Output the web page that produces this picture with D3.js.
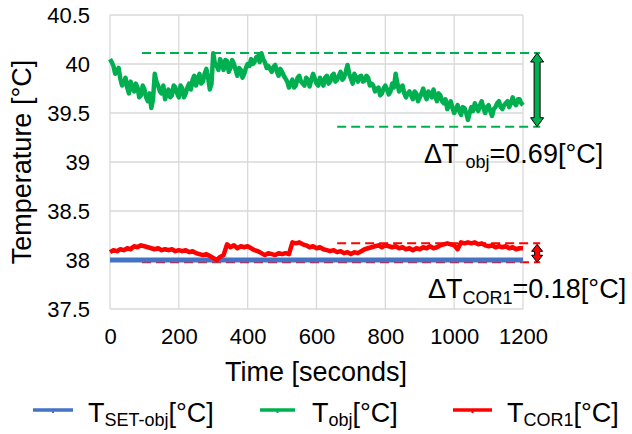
<!DOCTYPE html>
<html>
<head>
<meta charset="utf-8">
<script src="https://cdn.jsdelivr.net/npm/d3@7"></script>
<style>
  html, body { margin: 0; padding: 0; background: #fff; }
  svg { display: block; font-family: "Liberation Sans", Arial, sans-serif; }
</style>
</head>
<body>
<svg id="chart" width="632" height="434"></svg>
<script>
// ---------- DATA ----------
const times = [0,10,20,30,40,50,60,70,80,90,100,110,120,130,140,150,160,170,180,190,
  200,210,220,230,240,250,260,270,280,290,300,310,320,330,340,350,360,370,380,390,
  400,410,420,430,440,450,460,470,480,490,500,510,520,530,540,550,560,570,580,590,
  600,610,620,630,640,650,660,670,680,690,700,710,720,730,740,750,760,770,780,790,
  800,810,820,830,840,850,860,870,880,890,900,910,920,930,940,950,960,970,980,990,
  1000,1010,1020,1030,1040,1050,1060,1070,1080,1090,1100,1110,1120,1130,1140,1150,1160,1170,1180,1190,1200];

const timesMid = [5,15,25,35,45,55,65,75,85,95,105,115,125,135,145,155,165,175,185,195,
  205,215,225,235,245,255,265,275,285,295,305,315,325,335,345,355,365,375,385,395,
  405,415,425,435,445,455,465,475,485,495,505,515,525,535,545,555,565,575,585,595,
  605,615,625,635,645,655,665,675,685,695,705,715,725,735,745,755,765,775,785,795,
  805,815,825,835,845,855,865,875,885,895,905,915,925,935,945,955,965,975,985,995,
  1005,1015,1025,1035,1045,1055,1065,1075,1085,1095,1105,1115,1125,1135,1145,1155,1165,1175,1185,1195];

const tObj = [40.05,39.98,39.93,39.85,39.80,39.76,39.82,39.72,39.76,39.68,
  39.74,39.62,39.55,39.90,39.78,39.70,39.64,39.74,39.68,39.76,
  39.66,39.75,39.70,39.80,39.84,39.78,39.90,39.82,39.95,39.74,
  40.11,39.98,40.05,39.94,40.03,39.96,40.00,39.88,39.94,39.90,
  40.00,40.05,40.02,40.08,40.11,40.02,39.98,39.92,39.99,39.88,
  39.92,39.85,39.76,39.84,39.78,39.88,39.80,39.86,39.77,39.90,
  39.80,39.86,39.78,39.88,39.82,39.90,39.84,39.92,39.86,39.99,
  39.85,39.90,39.82,39.88,39.83,39.86,39.80,39.72,39.76,39.70,
  39.78,39.69,39.80,39.90,39.72,39.78,39.66,39.72,39.64,39.70,
  39.66,39.75,39.64,39.70,39.74,39.62,39.68,39.60,39.54,39.62,
  39.50,39.58,39.48,39.55,39.43,39.56,39.60,39.52,39.62,39.50,
  39.58,39.47,39.56,39.62,39.54,39.60,39.56,39.66,39.58,39.64,39.58];

const tObjMid = [40.02,39.90,39.96,39.78,39.86,39.70,39.76,39.80,39.66,39.78,
  39.66,39.70,39.64,39.82,39.72,39.78,39.70,39.66,39.78,39.70,
  39.78,39.66,39.76,39.74,39.88,39.84,39.80,39.90,39.86,39.80,
  40.00,39.94,40.00,40.04,39.92,40.04,39.94,39.96,39.86,39.96,
  39.98,40.00,40.07,40.02,40.05,39.96,39.95,39.97,39.92,39.95,
  39.88,39.82,39.80,39.76,39.86,39.82,39.78,39.84,39.84,39.85,
  39.78,39.82,39.86,39.80,39.88,39.82,39.88,39.84,39.92,39.90,
  39.80,39.86,39.87,39.82,39.88,39.78,39.78,39.74,39.68,39.75,
  39.74,39.72,39.76,39.80,39.76,39.70,39.70,39.68,39.72,39.62,
  39.70,39.68,39.72,39.66,39.67,39.70,39.62,39.64,39.58,39.55,
  39.54,39.52,39.56,39.50,39.50,39.52,39.56,39.58,39.55,39.56,
  39.52,39.54,39.60,39.56,39.58,39.62,39.60,39.60,39.64,39.60];

const tCor1 = [38.08,38.10,38.09,38.11,38.10,38.12,38.11,38.14,38.13,38.15,
  38.14,38.13,38.12,38.11,38.12,38.10,38.11,38.10,38.11,38.09,
  38.10,38.09,38.10,38.08,38.09,38.07,38.06,38.05,38.06,38.04,
  38.02,38.00,38.03,38.05,38.16,38.13,38.15,38.12,38.14,38.13,
  38.14,38.12,38.10,38.09,38.07,38.05,38.07,38.06,38.05,38.07,
  38.06,38.07,38.06,38.18,38.17,38.18,38.16,38.15,38.13,38.14,
  38.12,38.13,38.11,38.10,38.09,38.10,38.08,38.09,38.07,38.08,
  38.06,38.08,38.07,38.09,38.11,38.12,38.13,38.14,38.15,38.13,
  38.15,38.14,38.13,38.14,38.12,38.13,38.11,38.12,38.10,38.12,
  38.11,38.13,38.12,38.14,38.12,38.13,38.15,38.16,38.17,38.16,
  38.15,38.11,38.18,38.17,38.18,38.17,38.18,38.16,38.17,38.15,
  38.14,38.15,38.13,38.14,38.13,38.14,38.12,38.13,38.11,38.12,38.12];

const tSetTimes = [0, 1200];
const tSet = [38.0, 38.0];

const xTicks = [0, 200, 400, 600, 800, 1000, 1200];
const yTicks = [37.5, 38, 38.5, 39, 39.5, 40, 40.5];

// annotation levels: [value, startTime, endTime]
const objBandTop = [40.112, 93, 1250];
const objBandBottom = [39.36, 660, 1250];
const corBandTop = [38.17, 660, 1250];
const corBandBottom = [37.977, 93, 1250];
const arrowTime = 1241;

const objLabel = ["ΔT ", "obj", "=0.69[°C]"];
const corLabel = ["ΔT", "COR1", "=0.18[°C]"];

// ---------- CHART ----------
const svg = d3.select("#chart");
const x = d3.scaleLinear().domain([0, 1200]).range([110, 523]);
const y = d3.scaleLinear().domain([37.5, 40.5]).range([309, 15]);

const GREEN = "#00B050", RED = "#FF0000", BLUE = "#4472C4", GRID = "#D9D9D9";

// gridlines
svg.append("g").selectAll("line").data(yTicks).join("line")
  .attr("x1", x(0)).attr("x2", x(1200))
  .attr("y1", d => y(d)).attr("y2", d => y(d))
  .attr("stroke", GRID).attr("stroke-width", 1.3);
svg.append("g").selectAll("line").data(xTicks).join("line")
  .attr("x1", d => x(d)).attr("x2", d => x(d))
  .attr("y1", y(37.5)).attr("y2", y(40.5))
  .attr("stroke", GRID).attr("stroke-width", 1.3);

// axes (labels only)
const xAxis = d3.axisBottom(x).tickValues(xTicks).tickSize(0).tickPadding(0).tickFormat(d3.format("d"));
const gx = svg.append("g").attr("transform", `translate(0,${y(37.5)})`).call(xAxis);
gx.select(".domain").remove();
gx.selectAll("text").attr("y", 35).attr("dy", 0)
  .attr("font-size", 22).attr("fill", "#000")
  .attr("font-family", "Liberation Sans, Arial, sans-serif");

const yAxis = d3.axisLeft(y).tickValues(yTicks).tickSize(0).tickPadding(0).tickFormat(d => d3.format("")(d));
const gy = svg.append("g").attr("transform", `translate(90,0)`).call(yAxis);
gy.select(".domain").remove();
gy.selectAll("text").attr("x", 0).attr("dy", "0.35em")
  .attr("font-size", 22).attr("fill", "#000")
  .attr("font-family", "Liberation Sans, Arial, sans-serif");

// axis titles
svg.append("text").attr("x", 316).attr("y", 381)
  .attr("text-anchor", "middle").attr("font-size", 27).attr("fill", "#000")
  .text("Time [seconds]");
svg.append("text").attr("transform", "translate(31,162) rotate(-90)")
  .attr("text-anchor", "middle").attr("font-size", 27).attr("fill", "#000")
  .text("Temperature [°C]");

// dashed band lines
function band(b, color) {
  svg.append("line")
    .attr("x1", x(b[1])).attr("x2", x(b[2]))
    .attr("y1", y(b[0])).attr("y2", y(b[0]))
    .attr("stroke", color).attr("stroke-width", 2)
    .attr("stroke-dasharray", "9,5");
}
band(objBandTop, GREEN);
band(objBandBottom, GREEN);
band(corBandTop, RED);
band(corBandBottom, RED);

// series
const line = d3.line().x(d => x(d[0])).y(d => y(d[1]));
const objPts = times.map((t, i) => [t, tObj[i]])
  .concat(timesMid.map((t, i) => [t, tObjMid[i]]))
  .sort((a, b) => a[0] - b[0]);

svg.append("path").datum(tSetTimes.map((t, i) => [t, tSet[i]]))
  .attr("d", line).attr("fill", "none").attr("stroke", BLUE).attr("stroke-width", 5);
svg.append("path").datum(times.map((t, i) => [t, tCor1[i]]))
  .attr("d", line).attr("fill", "none").attr("stroke", RED)
  .attr("stroke-width", 4.5).attr("stroke-linejoin", "round");
svg.append("path").datum(objPts)
  .attr("d", line).attr("fill", "none").attr("stroke", GREEN)
  .attr("stroke-width", 4.5).attr("stroke-linejoin", "round");

// double-headed block arrows
function dblArrow(xc, yTop, yBot, color, bodyW, headW, headH) {
  const b = bodyW / 2, h = headW / 2;
  const p = [
    [xc, yTop], [xc + h, yTop + headH], [xc + b, yTop + headH],
    [xc + b, yBot - headH], [xc + h, yBot - headH], [xc, yBot],
    [xc - h, yBot - headH], [xc - b, yBot - headH], [xc - b, yTop + headH],
    [xc - h, yTop + headH]
  ];
  svg.append("path").attr("d", "M" + p.map(q => q.join(",")).join("L") + "Z")
    .attr("fill", color).attr("stroke", "#000").attr("stroke-width", 1)
    .attr("stroke-linejoin", "miter");
}
dblArrow(x(arrowTime), y(objBandTop[0]), y(objBandBottom[0]), GREEN, 6, 13, 9);
dblArrow(x(arrowTime), y(corBandTop[0]) + 1, y(corBandBottom[0]), RED, 5, 11, 7);

// annotation labels
function subLabel(px, py, parts, main, sub, shift) {
  const t = svg.append("text").attr("x", px).attr("y", py).attr("font-size", main).attr("fill", "#000");
  t.append("tspan").text(parts[0]);
  t.append("tspan").attr("font-size", sub).attr("dy", shift).text(parts[1]);
  t.append("tspan").attr("dy", -shift).text(parts[2]);
}
subLabel(424, 163, objLabel, 27, 18, 5);
subLabel(428, 298, corLabel, 27, 18, 6);

// legend
const legend = [
  { color: BLUE, x1: 33, x2: 73, tx: 88, parts: ["T", "SET-obj", "[°C]"] },
  { color: GREEN, x1: 260, x2: 295, tx: 312, parts: ["T", "obj", "[°C]"] },
  { color: RED, x1: 453, x2: 492, tx: 507, parts: ["T", "COR1", "[°C]"] }
];
const ly = 410;
legend.forEach(l => {
  svg.append("line").attr("x1", l.x1).attr("x2", l.x2).attr("y1", ly).attr("y2", ly)
    .attr("stroke", l.color).attr("stroke-width", 3.5);
  svg.append("rect").attr("x", (l.x1 + l.x2) / 2 - 1).attr("y", ly).attr("width", 2).attr("height", 3)
    .attr("fill", l.color);
  subLabel(l.tx, 422, l.parts, 27, 18, 4);
});
</script>
</body>
</html>
